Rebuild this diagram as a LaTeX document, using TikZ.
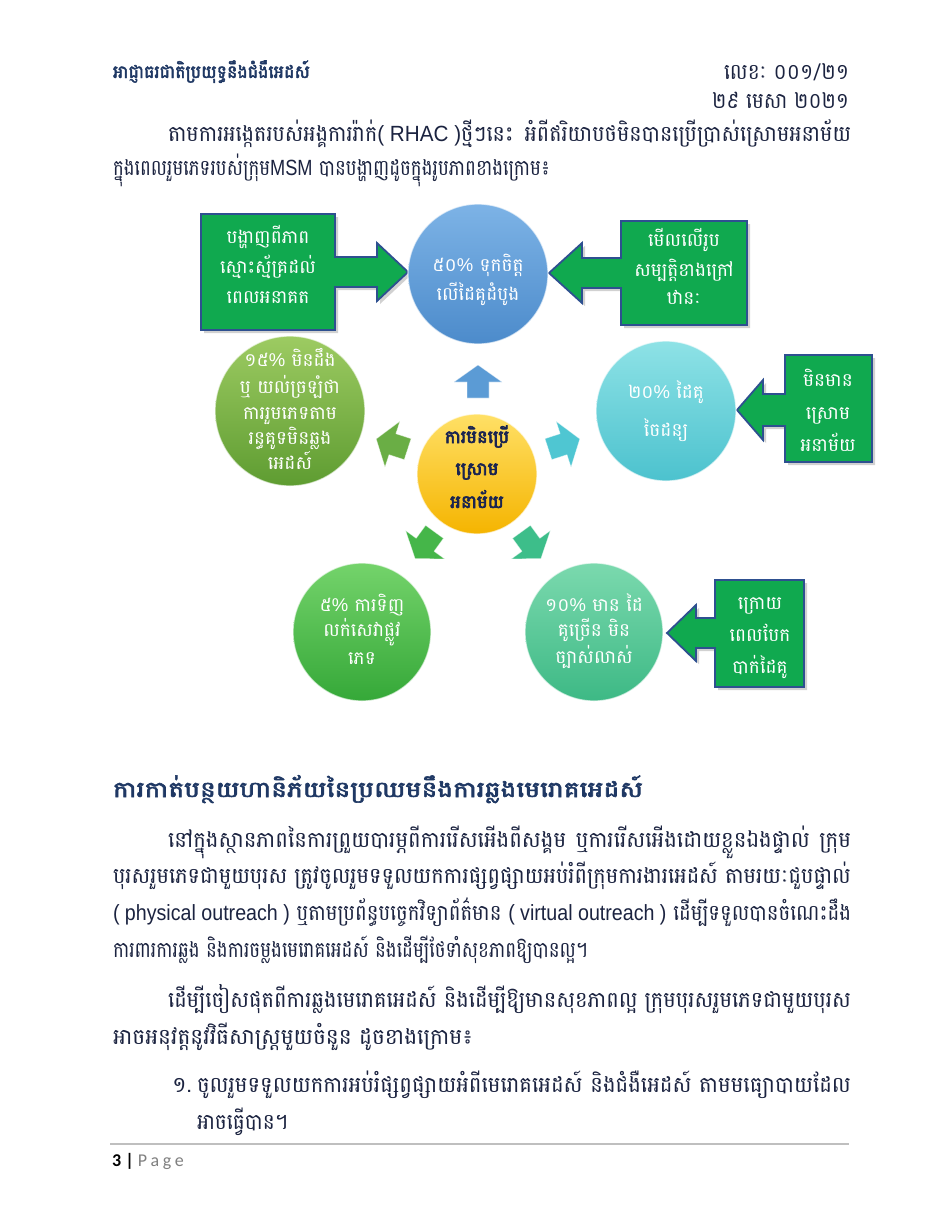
\documentclass[tikz,border=0pt]{standalone}
\usepackage{fontspec}
\usepackage{graphicx}
\newfontfamily\kh[Script=Khmer]{Battambang}
\newfontfamily\khb[Script=Khmer,FakeBold=2.5]{Battambang}
\newfontfamily\khbb[Script=Khmer,FakeBold=3.5]{Battambang}
\newfontfamily\arial{Liberation Sans}
\newfontfamily\cali{Carlito}
\definecolor{bodyc}{HTML}{1B2340}
\definecolor{navy}{HTML}{1F3864}
\definecolor{cnavy}{HTML}{1A2450}
\definecolor{boxg}{HTML}{10A94F}
\definecolor{boxb}{HTML}{2E5090}
\definecolor{blueT}{HTML}{7DB3E6}
\definecolor{blueB}{HTML}{4C8BCB}
\definecolor{gulT}{HTML}{9DCB62}
\definecolor{gulB}{HTML}{5E9C31}
\definecolor{cyT}{HTML}{8EE2E6}
\definecolor{cyB}{HTML}{4CC2CE}
\definecolor{gllT}{HTML}{74D36B}
\definecolor{gllB}{HTML}{35A838}
\definecolor{tlT}{HTML}{7BD9AE}
\definecolor{tlB}{HTML}{3DB985}
\definecolor{ylT}{HTML}{FFE066}
\definecolor{ylB}{HTML}{F5B400}
\definecolor{aBlue}{HTML}{5B9BD5}
\definecolor{aGul}{HTML}{6AAE45}
\definecolor{aCy}{HTML}{4FC6D2}
\definecolor{aGll}{HTML}{45B649}
\definecolor{aTl}{HTML}{3DBE8A}
\newcommand\RB[2]{\resizebox{#1pt}{\height}{#2}}
\newcommand\SArrow[3]{%
  \begin{scope}[shift={(478,472)}, rotate=#2]
    \path[sarrow, fill=#3] (74,-11) -- (90,-11) -- (90,-24) -- (107,0) -- (90,24) -- (90,11) -- (74,11) -- cycle;
  \end{scope}}
\tikzset{
  txt/.style={inner sep=0pt, outer sep=0pt, text=bodyc, font=\kh\fontsize{22}{25}\selectfont},
  btxt/.style={inner sep=0pt, outer sep=0pt, text=navy, font=\khb\fontsize{22}{25}\selectfont},
  dtxt/.style={inner sep=0pt, outer sep=0pt, anchor=base, text=white, font=\kh\fontsize{18.5}{22}\selectfont},
  ctxt/.style={inner sep=0pt, outer sep=0pt, anchor=base, text=cnavy, font=\khbb\fontsize{18}{21}\selectfont},
  callout/.style={fill=boxg, draw=boxb, line width=1.8pt, line join=miter,
    preaction={fill=black, opacity=0.18, transform canvas={shift={(3pt,-3pt)}}}},
  bubble/.style={circle, inner sep=0pt, draw=white, draw opacity=0.65, line width=1.3pt},
  sarrow/.style={line join=round, draw=white, draw opacity=0.5, line width=0.6pt},
}
\begin{document}
\begin{tikzpicture}[x=1pt,y=-1pt]
\useasboundingbox (0,0) rectangle (950,1229);
\fill[white] (0,0) rectangle (950,1229);

% ---------- header ----------
\node[btxt, anchor=base west, font=\khb\fontsize{18}{20}\selectfont] (hdrL) at (113,78) {\RB{197}{អាជ្ញាធរជាតិប្រយុទ្ធនឹងជំងឺអេដស៍}};
\node[txt, anchor=base east] (hdrR) at (849,79) {\RB{125}{លេខៈ ០០១/២១}};
\node[txt, anchor=base east] (hdrD) at (849,108) {\RB{137}{២៩ មេសា ២០២១}};

\node[txt, anchor=base west] (p1a) at (168,141) {\RB{683}{តាមការអង្កេតរបស់អង្គការរ៉ាក់{\arial ( RHAC )}ថ្មីៗនេះ\hspace{12pt}អំពីឥរិយាបថមិនបានប្រើប្រាស់ស្រោមអនាម័យ}};
\node[txt, anchor=base west] (p1b) at (113,175) {\RB{437}{ក្នុងពេលរួមភេទរបស់ក្រុម{\arial MSM} បានបង្ហាញដូចក្នុងរូបភាពខាងក្រោម៖}};

% ---------- diagram: callouts ----------
\path[callout] (201,214) -- (335,214) -- (335,257) -- (377,257) -- (377,243) -- (408,272) -- (377,301) -- (377,287) -- (335,287) -- (335,330) -- (201,330) -- cycle;
\path[callout] (747,221) -- (621,221) -- (621,258) -- (582,258) -- (582,243) -- (549,273) -- (582,303) -- (582,288) -- (621,288) -- (621,325) -- (747,325) -- cycle;
\path[callout] (872,355) -- (785,355) -- (785,394) -- (763,394) -- (763,380) -- (737,410) -- (763,440) -- (763,426) -- (785,426) -- (785,462) -- (872,462) -- cycle;
\path[callout] (804,580) -- (715,580) -- (715,618) -- (696,618) -- (696,605) -- (667,633) -- (696,661) -- (696,648) -- (715,648) -- (715,687) -- (804,687) -- cycle;

% ---------- diagram: circles ----------
\node[bubble, minimum size=140pt, top color=blueT, bottom color=blueB] (cTop) at (478,274) {};
\node[bubble, minimum size=150pt, top color=gulT, bottom color=gulB] (cUL) at (290,411) {};
\node[bubble, minimum size=140pt, top color=cyT, bottom color=cyB] (cUR) at (666,411) {};
\node[bubble, minimum size=138pt, top color=gllT, bottom color=gllB] (cLL) at (362,632) {};
\node[bubble, minimum size=138pt, top color=tlT, bottom color=tlB] (cLR) at (594,632) {};
\node[bubble, minimum size=120pt, top color=ylT, bottom color=ylB] (cC) at (477,474) {};

% ---------- diagram: small arrows ----------
\SArrow{up}{90}{aBlue}
\SArrow{ul}{162}{aGul}
\SArrow{ur}{18}{aCy}
\SArrow{ll}{234}{aGll}
\SArrow{lr}{306}{aTl}

% ---------- diagram: texts ----------
\node[dtxt] (tTop1) at (478,271) {៥០{\arial\%} ទុកចិត្ត};
\node[dtxt] (tTop2) at (478,300) {លើដៃគូដំបូង};

\node[dtxt] (tL1) at (268,243) {បង្ហាញពីភាព};
\node[dtxt] (tL2) at (268,273) {ស្មោះស្ម័គ្រដល់};
\node[dtxt] (tL3) at (268,303) {ពេលអនាគត};

\node[dtxt] (tR1) at (684,246) {មើលលើរូប};
\node[dtxt] (tR2) at (684,276) {សម្បត្តិខាងក្រៅ};
\node[dtxt] (tR3) at (684,304) {ឋានៈ};

\node[dtxt] (tUL1) at (290,366) {១៥{\arial\%} មិនដឹង};
\node[dtxt] (tUL2) at (290,393) {ឬ យល់ច្រឡំថា};
\node[dtxt] (tUL3) at (290,419) {ការរួមភេទតាម};
\node[dtxt] (tUL4) at (290,444) {រន្ធគូទមិនឆ្លង};
\node[dtxt] (tUL5) at (290,469) {អេដស៍};

\node[dtxt] (tUR1) at (666,398) {២០{\arial\%} ដៃគូ};
\node[dtxt] (tUR2) at (666,436) {ចៃដន្យ};

\node[dtxt] (tB1) at (828,386) {មិនមាន};
\node[dtxt] (tB2) at (828,419) {ស្រោម};
\node[dtxt] (tB3) at (828,451) {អនាម័យ};

\node[dtxt] (tLL1) at (362,611) {៥{\arial\%} ការទិញ};
\node[dtxt] (tLL2) at (362,636) {លក់សេវាផ្លូវ};
\node[dtxt] (tLL3) at (362,664) {ភេទ};

\node[dtxt] (tLR1) at (594,611) {១០{\arial\%} មាន ដៃ};
\node[dtxt] (tLR2) at (594,636) {គូច្រើន មិន};
\node[dtxt] (tLR3) at (594,663) {ច្បាស់លាស់};

\node[dtxt] (tX1) at (760,609) {ក្រោយ};
\node[dtxt] (tX2) at (760,641) {ពេលបែក};
\node[dtxt] (tX3) at (760,673) {បាក់ដៃគូ};

\node[ctxt] (tC1) at (477,443) {ការមិនប្រើ};
\node[ctxt] (tC2) at (477,475) {ស្រោម};
\node[ctxt] (tC3) at (477,508) {អនាម័យ};

% ---------- section ----------
\node[btxt, anchor=base west] (head) at (113,797) {\RB{530}{ការកាត់បន្ថយហានិភ័យនៃប្រឈមនឹងការឆ្លងមេរោគអេដស៍}};

\node[txt, anchor=base west] (p2a) at (168,847) {\RB{683}{នៅក្នុងស្ថានភាពនៃការព្រួយបារម្ភពីការរើសអើងពីសង្គម\hspace{10pt}ឬការរើសអើងដោយខ្លួនឯងផ្ទាល់\hspace{10pt}ក្រុម}};
\node[txt, anchor=base west] (p2b) at (113,883) {\RB{738}{បុរសរួមភេទជាមួយបុរស ត្រូវចូលរួមទទួលយកការផ្សព្វផ្សាយអប់រំពីក្រុមការងារអេដស៍ តាមរយៈជួបផ្ទាល់}};
\node[txt, anchor=base west] (p2c) at (113,920) {\RB{738}{{\arial ( physical outreach )} ឬតាមប្រព័ន្ធបច្ចេកវិទ្យាព័ត៌មាន {\arial ( virtual outreach )} ដើម្បីទទួលបានចំណេះដឹង}};
\node[txt, anchor=base west] (p2d) at (113,957) {\RB{475}{ការពារការឆ្លង និងការចម្លងមេរោគអេដស៍ និងដើម្បីថែទាំសុខភាពឱ្យបានល្អ។}};

\node[txt, anchor=base west] (p3a) at (168,1007) {\RB{683}{ដើម្បីចៀសផុតពីការឆ្លងមេរោគអេដស៍ និងដើម្បីឱ្យមានសុខភាពល្អ ក្រុមបុរសរួមភេទជាមួយបុរស}};
\node[txt, anchor=base west] (p3b) at (113,1044) {\RB{360}{អាចអនុវត្តនូវវិធីសាស្ត្រមួយចំនួន ដូចខាងក្រោម៖}};

\node[txt, anchor=base west] (li1n) at (172,1092) {១.};
\node[txt, anchor=base west] (li1) at (197,1092) {\RB{654}{ចូលរួមទទួលយកការអប់រំផ្សព្វផ្សាយអំពីមេរោគអេដស៍\hspace{8pt}និងជំងឺអេដស៍\hspace{8pt}តាមមធ្យោបាយដែល}};
\node[txt, anchor=base west] (li2) at (197,1129) {\RB{91}{អាចធ្វើបាន។}};

% ---------- footer ----------
\coordinate (rl) at (110,1144);
\coordinate (rr) at (849,1144);
\draw[black!25, line width=1.2pt] (rl) -- (rr);
\node[inner sep=0pt, anchor=base west, font=\cali\fontsize{18}{20}\selectfont] (foot) at (112,1166) {\textbf{3 |}\hspace{4pt}\textcolor{black!50}{P\kern3.5pt a\kern3.5pt g\kern3.5pt e}};
\end{tikzpicture}
\end{document}
